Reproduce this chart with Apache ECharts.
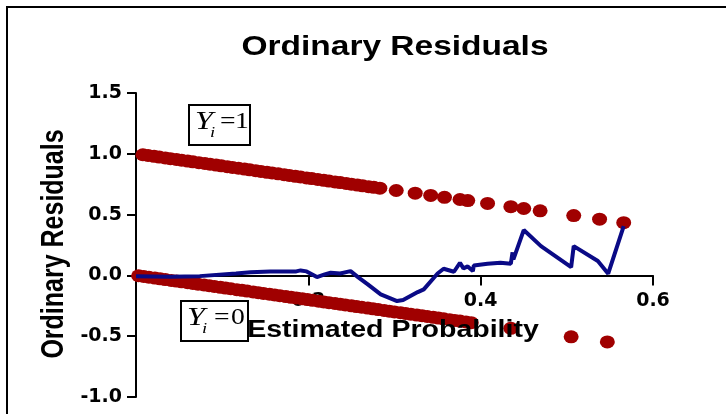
<!DOCTYPE html>
<html><head><meta charset="utf-8">
<script src="https://cdn.jsdelivr.net/npm/echarts/dist/echarts.min.js"></script>
<style>html,body{margin:0;padding:0;background:#fff}#c{width:726px;height:414px}</style>
</head><body><div id="c"></div>
<script>
const titleText = 'Ordinary Residuals';
const xName = 'Estimated Probability';
const yName = 'Ordinary Residuals';
const label1 = '1';
const label0 = '0';

// [estimated probability, ordinary residual] for observations with Y=1
const residY1 = [[0.008,0.992],[0.014,0.986],[0.021,0.979],[0.027,0.973],[0.034,0.966],[0.040,0.960],[0.047,0.953],[0.053,0.947],[0.060,0.940],[0.066,0.934],[0.073,0.927],[0.080,0.920],[0.086,0.914],[0.093,0.907],[0.099,0.901],[0.106,0.894],[0.112,0.888],[0.119,0.881],[0.126,0.874],[0.132,0.868],[0.139,0.861],[0.145,0.855],[0.152,0.848],[0.158,0.842],[0.165,0.835],[0.172,0.828],[0.178,0.822],[0.185,0.815],[0.191,0.809],[0.198,0.802],[0.204,0.796],[0.211,0.789],[0.218,0.782],[0.224,0.776],[0.231,0.769],[0.237,0.763],[0.244,0.756],[0.250,0.750],[0.257,0.743],[0.263,0.737],[0.270,0.730],[0.276,0.724],[0.283,0.717],[0.302,0.698],[0.324,0.676],[0.342,0.658],[0.358,0.642],[0.376,0.624],[0.385,0.615],[0.408,0.592],[0.435,0.565],[0.450,0.550],[0.469,0.531],[0.508,0.492],[0.538,0.462],[0.566,0.434]];

// [estimated probability, ordinary residual] for observations with Y=0
const residY0 = [[0.003,-0.003],[0.009,-0.009],[0.015,-0.015],[0.022,-0.022],[0.028,-0.028],[0.034,-0.034],[0.041,-0.041],[0.047,-0.047],[0.053,-0.053],[0.060,-0.060],[0.066,-0.066],[0.072,-0.072],[0.079,-0.079],[0.085,-0.085],[0.091,-0.091],[0.098,-0.098],[0.104,-0.104],[0.110,-0.110],[0.117,-0.117],[0.123,-0.123],[0.129,-0.129],[0.136,-0.136],[0.142,-0.142],[0.148,-0.148],[0.155,-0.155],[0.161,-0.161],[0.167,-0.167],[0.174,-0.174],[0.180,-0.180],[0.186,-0.186],[0.193,-0.193],[0.199,-0.199],[0.205,-0.205],[0.212,-0.212],[0.218,-0.218],[0.224,-0.224],[0.231,-0.231],[0.237,-0.237],[0.243,-0.243],[0.250,-0.250],[0.256,-0.256],[0.262,-0.262],[0.269,-0.269],[0.275,-0.275],[0.281,-0.281],[0.288,-0.288],[0.294,-0.294],[0.300,-0.300],[0.307,-0.307],[0.313,-0.313],[0.319,-0.319],[0.326,-0.326],[0.332,-0.332],[0.338,-0.338],[0.345,-0.345],[0.351,-0.351],[0.357,-0.357],[0.364,-0.364],[0.370,-0.370],[0.376,-0.376],[0.383,-0.383],[0.389,-0.389],[0.435,-0.435],[0.505,-0.505],[0.547,-0.547]];

// smoothed residual curve
const smoothLine = [[0.000,-0.008],[0.040,-0.012],[0.074,-0.006],[0.116,0.016],[0.133,0.025],[0.156,0.033],[0.186,0.033],[0.191,0.041],[0.198,0.033],[0.210,-0.014],[0.219,0.008],[0.226,0.022],[0.237,0.016],[0.249,0.035],[0.258,-0.016],[0.269,-0.074],[0.284,-0.156],[0.303,-0.211],[0.310,-0.203],[0.327,-0.137],[0.334,-0.115],[0.350,0.016],[0.357,0.055],[0.369,0.030],[0.376,0.104],[0.380,0.058],[0.385,0.074],[0.391,0.035],[0.392,0.082],[0.408,0.096],[0.423,0.104],[0.435,0.096],[0.437,0.189],[0.438,0.132],[0.450,0.373],[0.470,0.241],[0.505,0.068],[0.508,0.241],[0.536,0.118],[0.548,0.014],[0.566,0.405]];

const chart = echarts.init(document.getElementById('c'), null, {renderer: 'canvas'});
const SANS = '"Liberation Sans", Arial, sans-serif';
const SERIF = '"Liberation Serif", "Times New Roman", serif';
const DOT = '#A00000';
const BLUE = '#0A0A86';

function yBox(x, y, w, h, num, eqOff, numOff) {
  return {
    type: 'group', z: 100,
    children: [
      {type: 'rect', shape: {x: x, y: y, width: w, height: h}, style: {fill: '#fff', stroke: '#000', lineWidth: 2}},
      {type: 'text', x: x + 6, y: y + h / 2 - 3, scaleX: 1.24, style: {text: 'Y', font: 'italic 26px ' + SERIF, fill: '#000', align: 'left', verticalAlign: 'middle'}},
      {type: 'text', x: x + 21, y: y + h / 2 + 8, scaleX: 1.24, style: {text: 'i', font: 'italic 15px ' + SERIF, fill: '#000', align: 'left', verticalAlign: 'middle'}},
      {type: 'text', x: x + eqOff, y: y + h / 2 - 3, scaleX: 1.15, style: {text: '=', font: '24px ' + SERIF, fill: '#000', align: 'left', verticalAlign: 'middle'}},
      {type: 'text', x: x + numOff, y: y + h / 2 - 3, scaleX: 1.15, style: {text: num, font: '24px ' + SERIF, fill: '#000', align: 'left', verticalAlign: 'middle'}}
    ]
  };
}

chart.setOption({
  animation: false,
  backgroundColor: '#fff',
  grid: {left: 136, top: 93, width: 517, height: 304, containLabel: false, outerBoundsMode: 'none'},
  xAxis: {
    type: 'value', min: 0, max: 0.6, interval: 0.2, position: 'bottom', offset: -121.6,
    axisLine: {show: true, onZero: false, lineStyle: {color: '#000', width: 2}},
    axisTick: {show: true, length: 10, lineStyle: {color: '#000', width: 2}},
    axisLabel: {margin: 16, color: '#000', fontFamily: 'DejaVu Sans', fontWeight: 'bold', fontSize: 19,
      formatter: v => (Math.abs(v) < 1e-9 ? '' : v.toFixed(1))},
    splitLine: {show: false}
  },
  yAxis: {
    type: 'value', min: -1, max: 1.5, interval: 0.5,
    axisLine: {show: true, onZero: false, lineStyle: {color: '#000', width: 2}},
    axisTick: {show: true, length: 9, lineStyle: {color: '#000', width: 2}},
    axisLabel: {margin: 14, color: '#000', fontFamily: 'DejaVu Sans', fontWeight: 'bold', fontSize: 19,
      formatter: v => v.toFixed(1)},
    splitLine: {show: false}
  },
  series: [
    {type: 'scatter', data: residY1, symbol: 'circle', symbolSize: [15, 13], itemStyle: {color: DOT, opacity: 1}, z: 2},
    {type: 'scatter', data: residY0, symbol: 'circle', symbolSize: [15, 13], itemStyle: {color: DOT, opacity: 1}, z: 2},
    {type: 'line', data: smoothLine, symbol: 'none', lineStyle: {color: BLUE, width: 4}, z: 3}
  ],
  graphic: [
    {type: 'rect', z: -1, shape: {x: 7, y: 7, width: 900, height: 600}, style: {fill: 'none', stroke: '#000', lineWidth: 2}},
    {type: 'text', z: 100, x: 395, y: 48, scaleX: 1.24, style: {text: titleText, font: 'bold 27px ' + SANS, fill: '#000', align: 'center', verticalAlign: 'middle'}},
    {type: 'text', z: 100, x: 393, y: 331, scaleX: 1.24, style: {text: xName, font: 'bold 23px ' + SANS, fill: '#000', align: 'center', verticalAlign: 'middle'}},
    {type: 'text', z: 100, x: 54, y: 244, rotation: Math.PI / 2, scaleY: 1.24, style: {text: yName, font: 'bold 25px ' + SANS, fill: '#000', align: 'center', verticalAlign: 'middle'}},
    yBox(189, 105, 61, 40, label1, 31, 46),
    yBox(181, 301, 67, 40, label0, 33, 50)
  ]
});
</script>
</body></html>
